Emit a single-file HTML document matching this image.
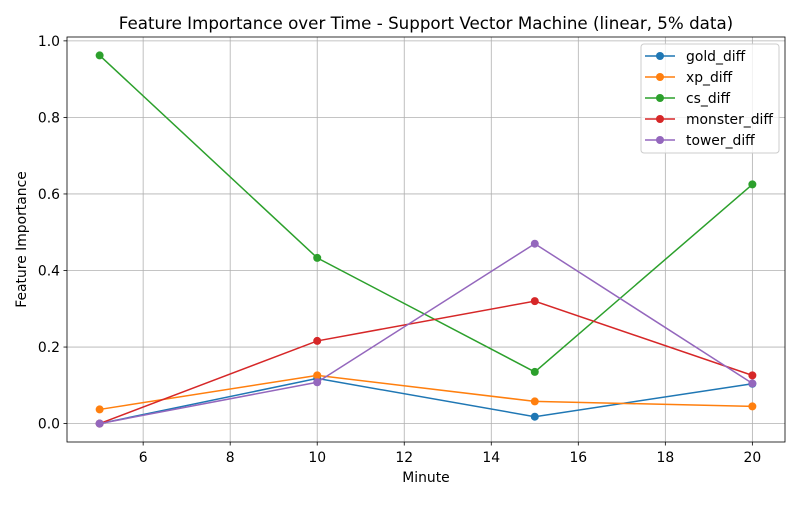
<!DOCTYPE html>
<html><head><meta charset="utf-8"><style>
body{margin:0;background:#fff;font-family:"Liberation Sans","DejaVu Sans",sans-serif;}
svg text{font-family:"DejaVu Sans","Liberation Sans",sans-serif;}
</style></head><body>
<svg id="chart" width="800" height="500"></svg>
<script>
const minutes=[5,10,15,20];
const seriesNames=["gold_diff","xp_diff","cs_diff","monster_diff","tower_diff"];
const goldVals=[0,0.118,0.018,0.104];
const xpVals=[0.037,0.126,0.058,0.045];
const csVals=[0.962,0.433,0.135,0.625];
const monsterVals=[0,0.216,0.320,0.126];
const towerVals=[0,0.108,0.470,0.105];
const xTicks=[6,8,10,12,14,16,18,20];
const yTicks=[0,0.2,0.4,0.6,0.8,1.0];
const colors=["#1f77b4","#ff7f0e","#2ca02c","#d62728","#9467bd"];
const allVals=[goldVals,xpVals,csVals,monsterVals,towerVals];
const L=67,R=785,T=37,B=442;
const xMin=4.25,xMax=20.75,yMin=-0.0481,yMax=1.0101;
const xs=v=>L+(v-xMin)/(xMax-xMin)*(R-L);
const ys=v=>B-(v-yMin)/(yMax-yMin)*(B-T);
const svg=document.getElementById('chart');const NS="http://www.w3.org/2000/svg";
function el(t,a,p){const e=document.createElementNS(NS,t);for(const k in a)e.setAttribute(k,a[k]);(p||svg).appendChild(e);return e;}
function txt(s,a,name){const e=el('text',a);e.textContent=s;

return e;}
const g=el('g',{});


xTicks.forEach(t=>{el('line',{x1:xs(t),x2:xs(t),y1:T,y2:B,stroke:'#b0b0b0','stroke-width':0.8},g);
el('line',{x1:xs(t),x2:xs(t),y1:B,y2:B+3.5,stroke:'#000','stroke-width':0.8});
txt(t,{x:xs(t),y:B+20,'font-size':13.9,'text-anchor':'middle'},'x-tick-label');});
yTicks.forEach(t=>{el('line',{x1:L,x2:R,y1:ys(t),y2:ys(t),stroke:'#b0b0b0','stroke-width':0.8},g);
el('line',{x1:L-3.5,x2:L,y1:ys(t),y2:ys(t),stroke:'#000','stroke-width':0.8});
txt(t.toFixed(1),{x:L-7,y:ys(t)+5,'font-size':13.9,'text-anchor':'end'},'y-tick-label');});
allVals.forEach((vals,i)=>{
const p=el('polyline',{points:vals.map((v,j)=>xs(minutes[j])+','+ys(v)).join(' '),fill:'none',stroke:colors[i],'stroke-width':1.5});


vals.forEach((v,j)=>{const c=el('circle',{cx:xs(minutes[j]),cy:ys(v),r:4,fill:colors[i]});

});});
const fr=el('rect',{x:L,y:T,width:R-L,height:B-T,fill:'none',stroke:'#000','stroke-width':0.8});


txt('Feature Importance over Time - Support Vector Machine (linear, 5% data)',{x:(L+R)/2,y:29,'font-size':16.7,'text-anchor':'middle'},'chart-title');
txt('Minute',{x:(L+R)/2,y:482,'font-size':13.9,'text-anchor':'middle'},'x-axis-title');
txt('Feature Importance',{x:26,y:(T+B)/2,'font-size':13.9,'text-anchor':'middle',transform:`rotate(-90 26 ${(T+B)/2})`},'y-axis-title');
const lg=el('g',{});


el('rect',{x:641,y:44,width:138,height:109,rx:3,fill:'#fff','fill-opacity':0.8,stroke:'#ccc'},lg);
seriesNames.forEach((n,i)=>{const y=56+i*21;
const e=el('g',{},lg);


el('line',{x1:645,x2:675,y1:y,y2:y,stroke:colors[i],'stroke-width':1.5},e);
el('circle',{cx:660,cy:y,r:4,fill:colors[i]},e);
const t=el('text',{x:686,y:y+5,'font-size':13.9},e);t.textContent=n;});
</script>
</body></html>
